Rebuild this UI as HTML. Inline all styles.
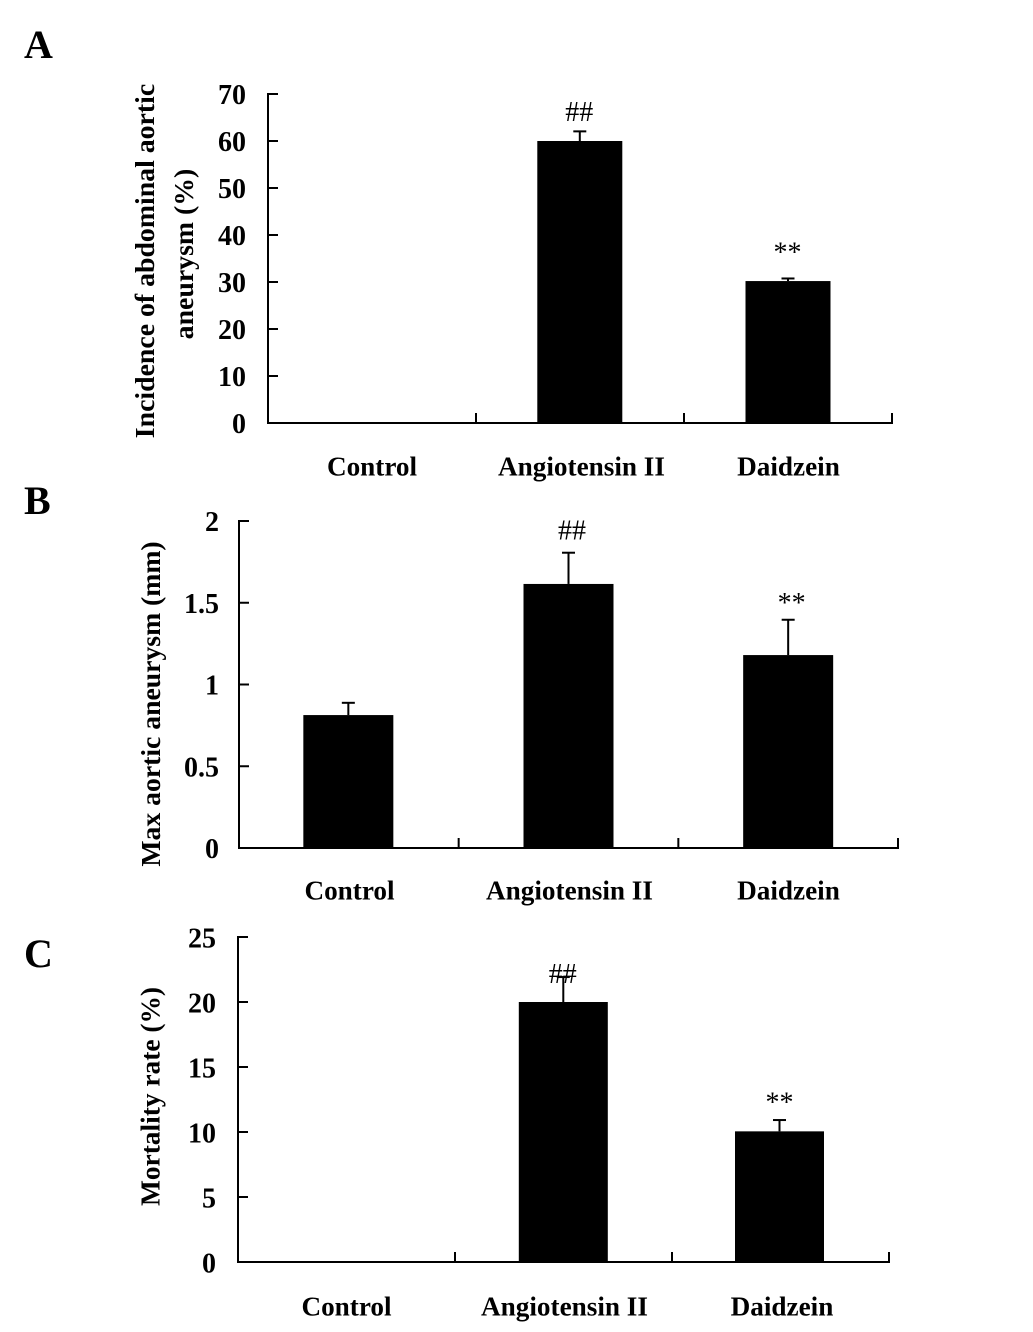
<!DOCTYPE html>
<html>
<head>
<meta charset="utf-8">
<style>
html,body{margin:0;padding:0;background:#fff;}
svg{display:block;}
text{font-family:"Liberation Serif",serif;font-weight:bold;fill:#000;}
</style>
</head>
<body>
<svg id="chart" width="1033" height="1332" viewBox="0 0 1033 1332" xmlns="http://www.w3.org/2000/svg"></svg>
<script>
const categories = ["Control", "Angiotensin II", "Daidzein"];

const panelAValues = [0, 60, 30.2];
const panelAErrors = [0, 2.05, 0.55];
const panelATicks = [0, 10, 20, 30, 40, 50, 60, 70];
const panelATickLabels = ["0", "10", "20", "30", "40", "50", "60", "70"];
const panelAMarks = ["", "##", "**"];
const panelATitle = ["Incidence of abdominal aortic", "aneurysm (%)"];

const panelBValues = [0.813, 1.615, 1.18];
const panelBErrors = [0.075, 0.191, 0.216];
const panelBTicks = [0, 0.5, 1, 1.5, 2];
const panelBTickLabels = ["0", "0.5", "1", "1.5", "2"];
const panelBMarks = ["", "##", "**"];
const panelBTitle = ["Max aortic aneurysm (mm)"];

const panelCValues = [0, 20, 10.05];
const panelCErrors = [0, 1.92, 0.87];
const panelCTicks = [0, 5, 10, 15, 20, 25];
const panelCTickLabels = ["0", "5", "10", "15", "20", "25"];
const panelCMarks = ["", "##", "**"];
const panelCTitle = ["Mortality rate (%)"];

const svg = document.getElementById('chart');
const NS = 'http://www.w3.org/2000/svg';

function add(tag, attrs, parent, text) {
  const el = document.createElementNS(NS, tag);
  for (const k in attrs) el.setAttribute(k, attrs[k]);
  if (text !== undefined) el.textContent = text;
  (parent || svg).appendChild(el);
  return el;
}

function drawPanel(cfg) {
  const g = add('g', {}, svg);
  
  

  const yOf = v => cfg.y0 + (cfg.yTop - cfg.y0) * (v - cfg.min) / (cfg.max - cfg.min);
  const step = (cfg.x1 - cfg.x0) / cfg.categories.length;
  const xOf = i => cfg.x0 + step * (i + 0.5) + (cfg.barShift[i] || 0);

  const letter = add('text', {x: cfg.letterX, y: cfg.letterY, 'font-size': 40}, g, cfg.id);
  
  

  cfg.values.forEach((v, i) => {
    const x = xOf(i);
    const yTopErr = yOf(v + cfg.errors[i]);
    if (cfg.errors[i] > 0) {
      const stem = add('line', {x1: x, x2: x, y1: yOf(v), y2: yTopErr, stroke: '#000', 'stroke-width': 2}, g);
      
      
      const cap = add('line', {x1: x - 6.5, x2: x + 6.5, y1: yTopErr, y2: yTopErr, stroke: '#000', 'stroke-width': 2}, g);
      
      
    }
    if (v > 0) {
      const bar = add('rect', {x: x - cfg.barW / 2, y: yOf(v), width: cfg.barW, height: yOf(0) - yOf(v), fill: '#000'}, g);
      
      
    }
    if (cfg.marks[i]) {
      const m = add('text', {x: x + (cfg.markShift[i] || 0), y: yTopErr + cfg.markOffset[i], 'font-size': 28, 'text-anchor': 'middle', style: 'font-weight:normal'}, g, cfg.marks[i]);
      
      
    }
    const lab = add('text', {x: cfg.labelX[i], y: cfg.labelY, 'font-size': 27.2, 'text-anchor': 'middle'}, g, cfg.categories[i]);
    
    
  });

  const yAxis = add('line', {x1: cfg.x0, x2: cfg.x0, y1: cfg.yTop - 1, y2: cfg.y0 + 1, stroke: '#000', 'stroke-width': 2}, g);
  
  
  const xAxis = add('line', {x1: cfg.x0 - 1, x2: cfg.x1 + 1, y1: cfg.y0, y2: cfg.y0, stroke: '#000', 'stroke-width': 2}, g);
  
  

  cfg.categories.forEach((c, i) => {
    const tx = cfg.x0 + step * (i + 1);
    const t = add('line', {x1: tx, x2: tx, y1: cfg.y0 - 10, y2: cfg.y0, stroke: '#000', 'stroke-width': 2}, g);
    
    
  });

  cfg.ticks.forEach((v, i) => {
    const y = yOf(v);
    const t = add('line', {x1: cfg.x0, x2: cfg.x0 + 10, y1: y, y2: y, stroke: '#000', 'stroke-width': 2}, g);
    
    
    const l = add('text', {x: cfg.x0 + cfg.tickDx, y: y + cfg.tickDy, 'font-size': 28, 'text-anchor': 'end'}, g, cfg.tickLabels[i]);
    
    
  });

  cfg.title.forEach((line, i) => {
    const tx = cfg.titleX[i];
    const ty = cfg.titleY[i];
    const t = add('text', {x: tx, y: ty, 'font-size': cfg.titleSize, 'text-anchor': 'middle', transform: 'rotate(-90 ' + tx + ' ' + ty + ')'}, g, line);
    
    
  });
}

drawPanel({
  id: 'A', categories, values: panelAValues, errors: panelAErrors, ticks: panelATicks, tickLabels: panelATickLabels,
  marks: panelAMarks, title: panelATitle, min: 0, max: 70,
  x0: 268, x1: 892, y0: 423, yTop: 94, barW: 85, barShift: [0, -0.2, 0],
  labelX: [372, 581.5, 788.5], labelY: 475.5, letterX: 24, letterY: 58,
  titleX: [154, 193], titleY: [261, 254], titleSize: 27.8, tickDx: -22, tickDy: 10,
  markShift: [0, -0.5, -0.5], markOffset: [0, -10.5, -17]
});
drawPanel({
  id: 'B', categories, values: panelBValues, errors: panelBErrors, ticks: panelBTicks, tickLabels: panelBTickLabels,
  marks: panelBMarks, title: panelBTitle, min: 0, max: 2,
  x0: 239, x1: 898, y0: 848, yTop: 521, barW: 90, barShift: [-0.5, 0, 0],
  labelX: [349.5, 569.5, 788.5], labelY: 899.5, letterX: 24, letterY: 514,
  titleX: [160], titleY: [704], titleSize: 27.7, tickDx: -20, tickDy: 10,
  markShift: [0, 3.5, 3.5], markOffset: [0, -13, -8]
});
drawPanel({
  id: 'C', categories, values: panelCValues, errors: panelCErrors, ticks: panelCTicks, tickLabels: panelCTickLabels,
  marks: panelCMarks, title: panelCTitle, min: 0, max: 25,
  x0: 238, x1: 889, y0: 1262, yTop: 937, barW: 89, barShift: [0, -0.2, -1],
  labelX: [346.5, 564.5, 782], labelY: 1315.5, letterX: 24, letterY: 967,
  titleX: [159.5], titleY: [1096.5], titleSize: 27.4, tickDx: -22, tickDy: 10.5,
  markShift: [0, -0.5, 0], markOffset: [0, 6, -8.5]
});
</script>
</body>
</html>
